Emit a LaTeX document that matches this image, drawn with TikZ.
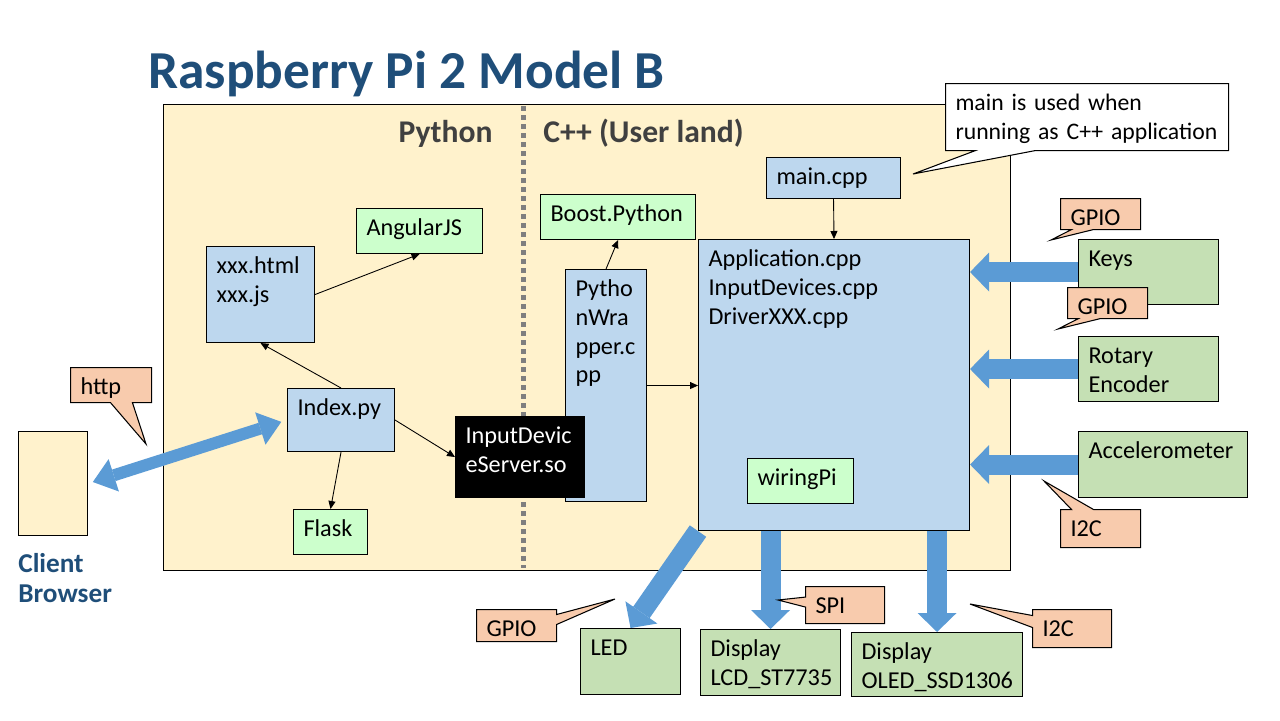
\documentclass[tikz,border=0pt]{standalone}
\usepackage{fontspec}
\setmainfont{Carlito}
\usetikzlibrary{arrows.meta,shapes.callouts}
\newlength{\px}
\setlength{\px}{0.02cm}
\definecolor{boardyellow}{HTML}{FFF2CC}
\definecolor{swblue}{HTML}{BDD7EE}
\definecolor{libgreen}{HTML}{CCFFCC}
\definecolor{hwgreen}{HTML}{C5E0B4}
\definecolor{busorange}{HTML}{F8CBAD}
\definecolor{arrowblue}{HTML}{5B9BD5}
\definecolor{titleblue}{HTML}{1F4E79}
\definecolor{darktext}{HTML}{404040}
\definecolor{dotgray}{HTML}{7F7F7F}

\begin{document}
\begin{tikzpicture}[x=0.02cm, y=-0.02cm,
		box/.style 2 args={draw, line width=0.6pt, anchor=north west, align=left, inner sep=0pt, inner xsep=10\px,
			text width=#1\px-20\px, text height=27\px, text depth=#2\px-27\px,
			font=\fontsize{13.8pt}{16.4pt}\selectfont},
		bubble/.style={rectangle callout, fill=busorange, callout pointer width=22\px},
		link/.style={-{Triangle[length=0.16cm, width=0.14cm]}, line width=0.5pt},
		bigarrow/.style={draw=arrowblue, line width=20\px, -{Triangle[length=0.38cm, width=0.78cm, line width=0pt]}},
		heading/.style={font=\fontsize{18pt}{21pt}\selectfont\bfseries, text=darktext, inner sep=0pt},
	]
	\useasboundingbox (0,0) rectangle (1280,720);

	\node[anchor=base west, inner sep=0pt, text=titleblue, font=\fontsize{30.4pt}{36pt}\selectfont\bfseries] (title) at (148,88) {Raspberry Pi 2 Model B};

	% board and its two halves
	\node[box={847}{466}, fill=boardyellow] (pi) at (163,104) {};
	\draw[dotgray, line width=5\px, dash pattern=on 5\px off 4\px] (523,106) -- (523,568);
	\node[heading, anchor=base east] (python) at (493,142) {Python};
	\node[heading, anchor=base west] (userland) at (543,142) {C++ (User land)};

	% python side
	\node[box={108}{96}, fill=swblue] (html) at (206,246) {xxx.html\\xxx.js};
	\node[box={126}{45}, fill=libgreen] (angular) at (356,208) {AngularJS};
	\node[box={107}{63}, fill=swblue] (index) at (287,388) {Index.py};
	\node[box={74}{45}, fill=libgreen] (flask) at (293,509) {Flask};

	% c++ side
	\node[box={81}{232}, fill=swblue] (wrapper) at (565,269) {Pytho\\nWra\\pper.c\\pp};
	\node[box={129}{81}, fill=black, text=white] (server) at (455,416) {InputDevic\\eServer.so};
	\node[box={155}{45}, fill=libgreen] (boost) at (540,194) {Boost.Python};
	\node[box={134}{41}, fill=swblue] (main) at (766,157) {main.cpp};
	\node[box={271}{291}, fill=swblue] (app) at (698,239) {Application.cpp\\InputDevices.cpp\\DriverXXX.cpp};
	\node[box={106}{45}, fill=libgreen] (wiring) at (747,458) {wiringPi};

	% devices
	\node[box={69}{104}, fill=boardyellow] (client) at (18,431) {};
	\node[anchor=base west, inner sep=0pt, align=left, text width=120\px, text=titleblue, font=\fontsize{15.5pt}{17.6pt}\selectfont\bfseries] (browser) at (18,572) {Client\\Browser};
	\node[box={140}{65}, fill=hwgreen] (keys) at (1078,239) {Keys};
	\node[box={140}{65}, fill=hwgreen] (rotary) at (1078,336) {Rotary\\Encoder};
	\node[box={169}{66}, fill=hwgreen] (accel) at (1078,431) {Accelerometer};
	\node[box={100}{66}, fill=hwgreen] (led) at (580,628) {LED};
	\node[box={140}{66}, fill=hwgreen] (lcd) at (700,629) {Display\\LCD\_ST7735};
	\node[box={171}{64}, fill=hwgreen] (oled) at (851,632) {Display\\OLED\_SSD1306};

	\draw[link] (html.east) -- (angular.south);
	\draw[link] (index.north) -- (html.south);
	\draw[link] (index.east) -- (server.west);
	\draw[link] (index.south) -- (flask.north);
	\draw[link] (wrapper.north) -- (boost.south);
	\draw[link] (wrapper.east) -- (wrapper.east -| app.west);
	\draw[link] (main.south) -- (app.north);

	\draw[bigarrow] (keys.west) -- (keys.west -| app.east);
	\draw[bigarrow] (rotary.west) -- (rotary.west -| app.east);
	\draw[bigarrow] (accel.west) -- (accel.west -| app.east);
	\draw[bigarrow] (lcd.north |- app.south) -- (lcd.north);
	\draw[bigarrow] (oled.north |- app.south) -- (oled.north);
	\draw[bigarrow] (app.south west) -- (led.north);
	\draw[draw=arrowblue, line width=12\px, {Triangle[length=0.44cm, width=0.68cm, line width=0pt]}-{Triangle[length=0.44cm, width=0.68cm, line width=0pt]}, shorten <=5\px, shorten >=6\px] (client.east) -- (index.west);

	% callouts
	\node[box={283}{67}, bubble, fill=white, callout absolute pointer={(913,174)}, callout pointer width=60\px, font=\fontsize{13.5pt}{16.4pt}\selectfont] (note) at (945,83) {main is used when\\running as C++ application};
	\node[box={81}{35}, bubble, callout absolute pointer={(146,444)}] (http) at (70,367) {http};
	\node[box={80}{31}, bubble, callout absolute pointer={(1051,240)}] (gpiokeys) at (1060,198) {GPIO};
	\node[box={80}{31}, bubble, callout absolute pointer={(1058,329)}] (gpiorot) at (1067,287) {GPIO};
	\node[box={80}{38}, bubble, callout absolute pointer={(1044,481)}] (i2caccel) at (1060,509) {I2C};
	\node[box={79}{37}, bubble, callout absolute pointer={(778,600)}, callout pointer width=10\px] (spi) at (805,586) {SPI};
	\node[box={79}{38}, bubble, callout absolute pointer={(970,604)}, callout pointer width=12\px] (i2coled) at (1032,609) {I2C};
	\node[box={80}{32}, bubble, callout absolute pointer={(615,599)}, callout pointer width=10\px] (gpioled) at (476,609) {GPIO};
\end{tikzpicture}
\end{document}
